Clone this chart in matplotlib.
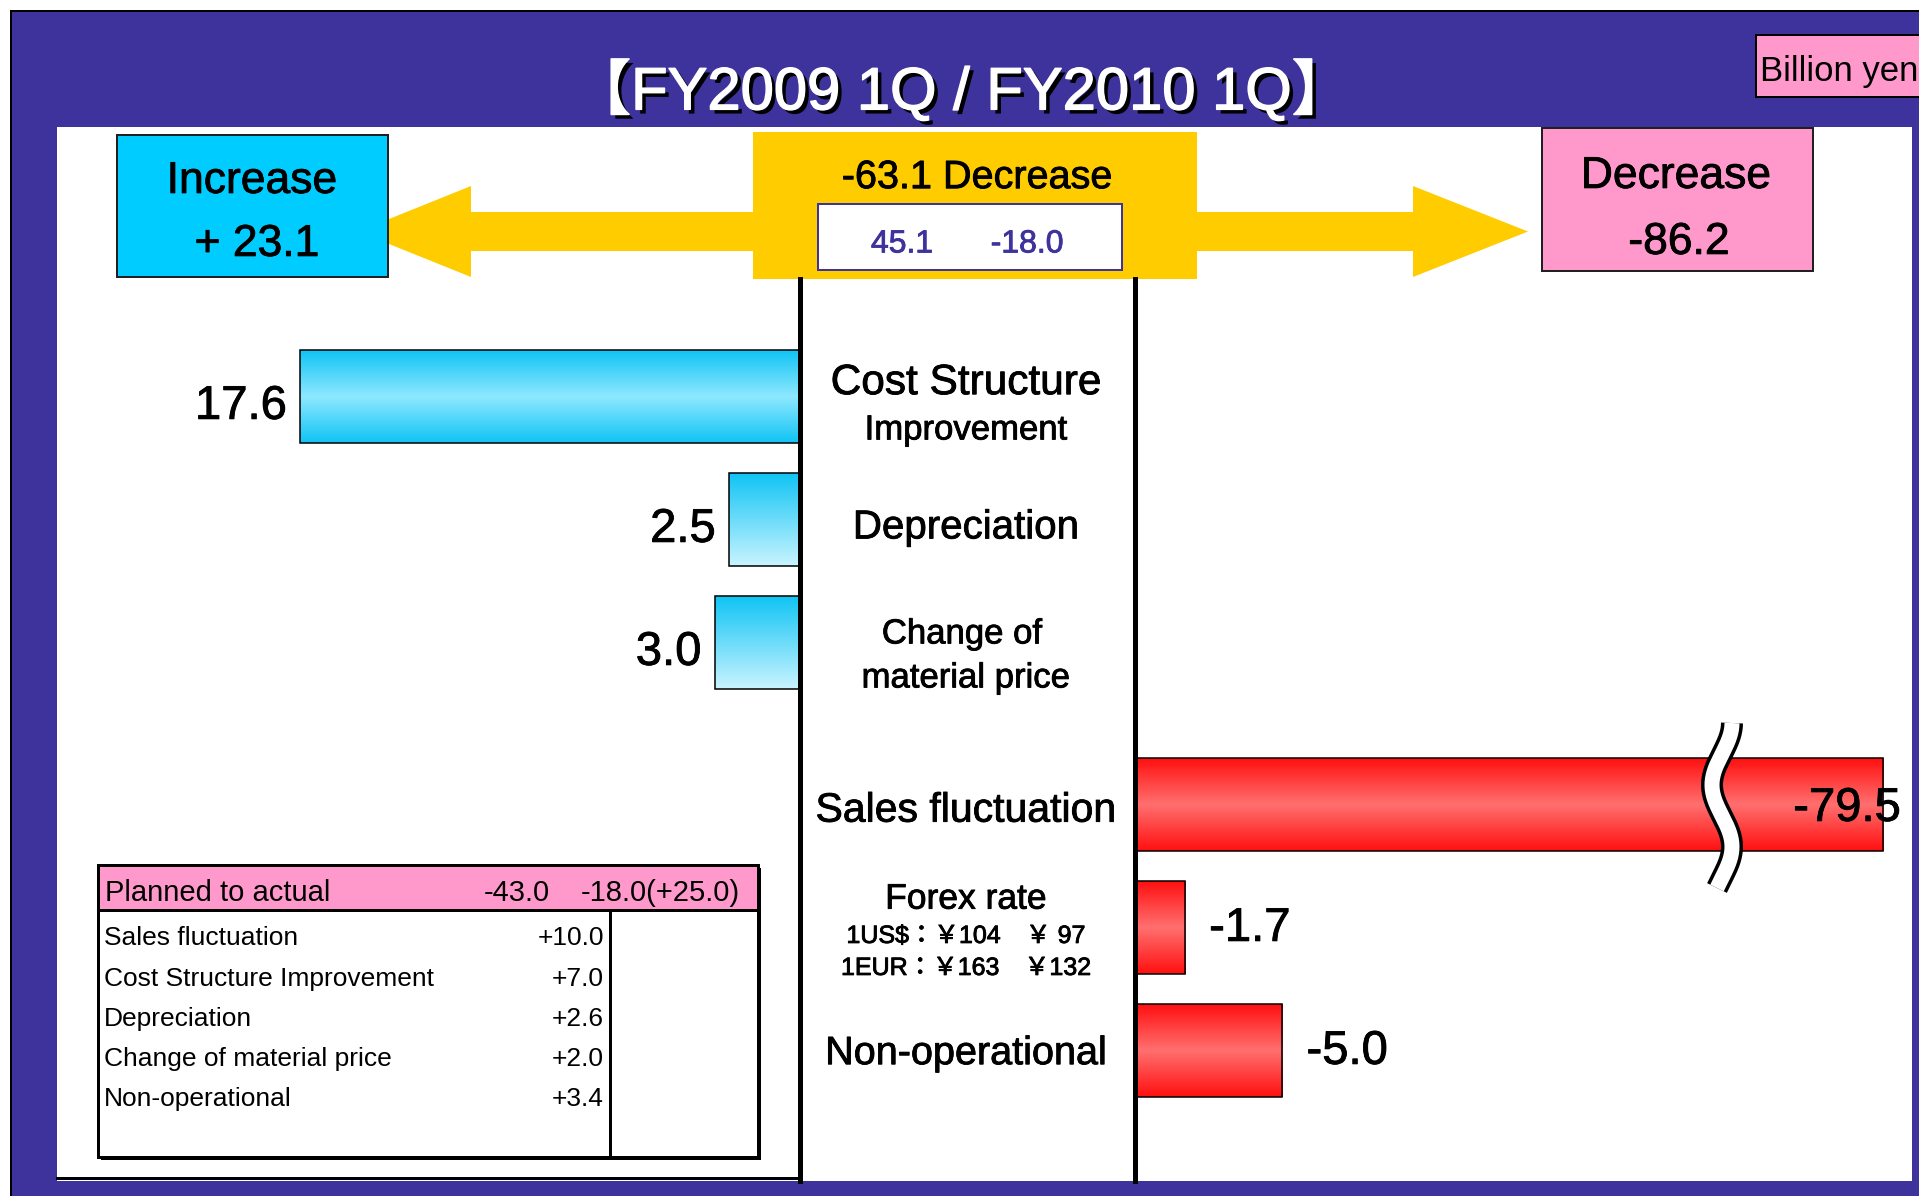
import numpy as np
import matplotlib.pyplot as plt
import matplotlib.patheffects as pe
from matplotlib.patches import Rectangle, Polygon
from matplotlib.colors import LinearSegmentedColormap

W, H = 1919, 1196
PX = 72 / 100  # points per pixel at dpi 100

# ---- data ----
categories = ["Cost Structure Improvement", "Depreciation", "Change of material price",
              "Sales fluctuation", "Forex rate", "Non-operational"]
values = [17.6, 2.5, 3.0, -79.5, -1.7, -5.0]
gradient_style = ["mirror", "fade", "fade", "mirror", "mirror", "mirror"]
prior_result = 45.1
current_result = -18.0

forex_lines = ["1US$：￥104　￥ 97", "1EUR：￥163　￥132"]

plan_items = ["Sales fluctuation", "Cost Structure Improvement", "Depreciation",
              "Change of material price", "Non-operational"]
plan_values = [10.0, 7.0, 2.6, 2.0, 3.4]
plan_forecast = -43.0
plan_actual = -18.0

title = "【FY2009 1Q / FY2010 1Q】"
unit = "Billion yen"

# ---- style ----
PURPLE = "#3e329c"
CYAN = "#00ccff"
YELLOW = "#ffcc00"
PINK = "#ff99cc"
BREAK_AT = 25.36      # visual cut of the broken bar
ROW_GAP = 0.317       # extra space between increase and decrease groups
BAR_H = 0.756
HEAVY = [pe.withStroke(linewidth=0.6, foreground='black')]

plt.rcParams['font.family'] = ['Liberation Sans', 'Noto Sans CJK JP', 'DejaVu Sans']

fig = plt.figure(figsize=(W / 100, H / 100), dpi=100, facecolor='white')
bg = fig.add_axes([0, 0, 1, 1])
bg.set_xlim(0, W)
bg.set_ylim(H, 0)
bg.axis('off')


def box(x0, y0, x1, y1, fc, ec='none', lw=0, z=1):
    bg.add_patch(Rectangle((x0, y0), x1 - x0, y1 - y0, facecolor=fc,
                           edgecolor=ec, linewidth=lw * PX, zorder=z))


def txt(x, yc, s, size, ha='center', color='black', z=10, effects=None):
    # yc is the centre of the capital letters, in pixels
    base = yc + 0.358 * size / PX
    if effects is None:
        effects = HEAVY if color == 'black' else []
    bg.text(x, base, s, fontsize=size, ha=ha, va='baseline', color=color,
            zorder=z, path_effects=effects)


# background frame
box(11, 11, W + 10, H + 10, PURPLE, ec='black', lw=2, z=0)
box(57, 127, 1912, 1181, 'white', z=0.5)
bg.plot([57, 800], [1178, 1178], color='black', lw=3 * PX, zorder=1)

# title with drop shadow
txt(962, 88, title, 43, color='white',
    effects=[pe.SimplePatchShadow(offset=(3, -3), shadow_rgbFace='black', alpha=1.0),
             pe.withStroke(linewidth=1.0, foreground='white')])

# unit box
box(1756, 35, W + 20, 97, PINK, ec='black', lw=2, z=2)
txt(1760, 69, unit, 25, ha='left', effects=[])

# summary boxes and arrows
inc_total = sum(v for v in values if v > 0)
dec_total = sum(v for v in values if v < 0)
net = inc_total + dec_total

bg.add_patch(Polygon([(753, 212), (471, 212), (471, 186), (358, 231.5), (471, 277),
                      (471, 251), (753, 251)], closed=True, fc=YELLOW, ec='none', zorder=1))
bg.add_patch(Polygon([(1197, 212), (1413, 212), (1413, 186), (1528, 231.5), (1413, 277),
                      (1413, 251), (1197, 251)], closed=True, fc=YELLOW, ec='none', zorder=1))

box(117, 135, 388, 277, CYAN, ec='#202020', lw=2, z=2)
txt(252, 177, "Increase", 32)
txt(257, 240, f"+ {inc_total:.1f}", 32)

box(1542, 128, 1813, 271, PINK, ec='#202020', lw=2, z=2)
txt(1676, 172, "Decrease", 32)
txt(1679, 238, f"{dec_total:.1f}", 32)

box(753, 132, 1197, 279, YELLOW, z=2)
txt(977, 174, f"{net:.1f} Decrease", 28.5)
box(818, 204, 1122, 270, 'white', ec=PURPLE, lw=2, z=3)
txt(902, 241, f"{prior_result:.1f}", 23, color=PURPLE,
    effects=[pe.withStroke(linewidth=0.6, foreground=PURPLE)])
txt(1027, 241, f"{current_result:.1f}", 23, color=PURPLE,
    effects=[pe.withStroke(linewidth=0.6, foreground=PURPLE)])

# centre column labels
cx = 966
txt(cx, 379, "Cost Structure", 30.5)
txt(cx, 427, "Improvement", 25)
txt(cx, 524, "Depreciation", 29)
txt(cx - 4, 631, "Change of", 25)
txt(cx, 675, "material price", 25)
txt(cx, 807, "Sales fluctuation", 29.5)
txt(cx, 896, "Forex rate", 25.5)
txt(cx, 934, forex_lines[0], 18)
txt(cx, 966, forex_lines[1], 18)
txt(cx, 1050, "Non-operational", 28.5)

# planned-to-actual table
box(101, 868, 761, 1160, 'black', z=2)
box(98, 865, 758, 1157, 'white', ec='black', lw=3, z=3)
box(98, 865, 758, 910, PINK, ec='black', lw=3, z=4)
bg.plot([610, 610], [910, 1157], color='black', lw=3 * PX, zorder=4)
txt(105, 891, "Planned to actual", 21, ha='left', effects=[])
txt(550, 891, f"{plan_forecast:.1f}", 21, ha='right', effects=[])
txt(740, 891, f"{plan_actual:.1f}({plan_actual - plan_forecast:+.1f})", 21, ha='right',
    effects=[])
for i, (name, v) in enumerate(zip(plan_items, plan_values)):
    y = 936 + 40.25 * i
    txt(104, y, name, 19, ha='left', effects=[])
    txt(604, y, f"{v:+.1f}", 19, ha='right', effects=[])


# ---- bar axes ----
def fig_rect(x0, y0, x1, y1):
    return [x0 / W, 1 - y1 / H, (x1 - x0) / W, (y1 - y0) / H]


ax_l = fig.add_axes(fig_rect(57, 279, 800, 1181))
ax_r = fig.add_axes(fig_rect(1135, 279, 1912, 1181))
for ax in (ax_l, ax_r):
    ax.patch.set_visible(False)
    ax.set_xticks([])
    ax.set_yticks([])
    for s in ax.spines.values():
        s.set_visible(False)
ax_l.spines['right'].set_visible(True)
ax_l.spines['right'].set_linewidth(5 * PX)
ax_r.spines['left'].set_visible(True)
ax_r.spines['left'].set_linewidth(5 * PX)

cmaps = {
    (True, "mirror"): LinearSegmentedColormap.from_list("bm", ["#10c4f4", "#8fe8ff", "#10c4f4"]),
    (True, "fade"): LinearSegmentedColormap.from_list("bf", ["#10c4f4", "#c9f4ff"]),
    (False, "mirror"): LinearSegmentedColormap.from_list("rm", ["#ff1010", "#ff7070", "#ff1010"]),
    (False, "fade"): LinearSegmentedColormap.from_list("rf", ["#ff1010", "#ffb0b0"]),
}
grad = np.linspace(0, 1, 128).reshape(-1, 1)

vals = np.array(values)
rows = np.arange(len(vals)) + ROW_GAP * (vals < 0)
LABEL_PT = 34

for r, v, style in zip(rows, vals, gradient_style):
    up = v > 0
    ax = ax_l if up else ax_r
    length = min(abs(v), BREAK_AT)
    bar = ax.barh(r, length, height=BAR_H, facecolor='none', edgecolor='black',
                  linewidth=1.1, zorder=3)[0]
    img = ax.imshow(grad, cmap=cmaps[(up, style)], aspect='auto', origin='upper',
                    extent=(0, length, r + BAR_H / 2, r - BAR_H / 2),
                    interpolation='bilinear', zorder=2)
    img.set_clip_path(bar)
    dy = -0.358 * LABEL_PT / PX - 5
    label = f"{v:.1f}"
    if up:
        ax.annotate(label, (length, r), xytext=(-13, dy), textcoords='offset pixels',
                    ha='right', va='baseline', fontsize=LABEL_PT, path_effects=HEAVY)
    elif abs(v) > BREAK_AT:
        ax.annotate(label, (length, r), xytext=(18, dy + 6), textcoords='offset pixels',
                    ha='right', va='baseline', fontsize=LABEL_PT, zorder=7,
                    annotation_clip=False, path_effects=HEAVY)
    else:
        ax.annotate(label, (length, r), xytext=(24, dy + 9), textcoords='offset pixels',
                    ha='left', va='baseline', fontsize=LABEL_PT, path_effects=HEAVY)

ax_l.set_xlim(26.16, 0)
ax_r.set_xlim(0, 26.34)
for ax in (ax_l, ax_r):
    ax.set_ylim(6.374, -0.959)

# break mark on the long bar
t = np.linspace(0, 1, 200)
by = 723 + t * (888 - 723)
bx = 1722 + 10 * np.cos(2 * np.pi * t / 0.75)
ax_r.plot(bx, by, transform=bg.transData, color='black', lw=22 * PX,
          solid_capstyle='butt', zorder=5, clip_on=False)
ax_r.plot(bx, by, transform=bg.transData, color='white', lw=15 * PX,
          solid_capstyle='butt', zorder=6, clip_on=False)

fig.savefig("out.png", dpi=100, facecolor='white')
